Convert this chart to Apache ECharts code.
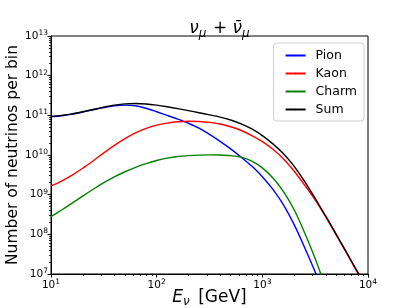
<!DOCTYPE html>
<html>
<head>
<meta charset="utf-8">
<script src="https://cdn.jsdelivr.net/npm/echarts@6/dist/echarts.min.js"></script>
<style>html,body{margin:0;padding:0;background:#fff}#c{width:411px;height:308px}</style>
</head>
<body>
<div id="c"></div>
<script>
// Neutrino energy grid (GeV)
var energies = [10, 12.59, 15.85, 19.95, 25.12, 31.62, 39.81, 50.12, 63.10, 79.43,
  100, 125.9, 158.5, 199.5, 251.2, 316.2, 398.1, 501.2, 631.0, 794.3,
  1000, 1259, 1585, 1995, 2512, 3162, 3981, 5012, 6310, 7943, 10000];
var pion = [9.27e10, 9.77e10, 1.07e11, 1.21e11, 1.38e11, 1.57e11, 1.73e11, 1.81e11, 1.74e11, 1.51e11,
  1.23e11, 9.95e10, 8.00e10, 6.31e10, 4.73e10, 3.31e10, 2.21e10, 1.43e10, 8.81e9, 5.25e9,
  2.84e9, 1.36e9, 5.56e8, 1.78e8, 4.68e7, 1.12e7, 2.24e6, null, null, null, null];
var kaon = [1.66e9, 2.21e9, 3.12e9, 4.63e9, 7.18e9, 1.13e10, 1.75e10, 2.59e10, 3.61e10, 4.67e10,
  5.66e10, 6.38e10, 6.87e10, 7.11e10, 7.01e10, 6.64e10, 6.03e10, 5.15e10, 4.15e10, 3.09e10,
  2.17e10, 1.39e10, 7.94e9, 3.95e9, 1.75e9, 7.41e8, 2.75e8, 9.55e7, 3.24e7, 1.10e7, 3.55e6];
var charm = [2.79e8, 4.11e8, 6.11e8, 9.16e8, 1.37e9, 2.0e9, 2.81e9, 3.78e9, 4.90e9, 6.08e9,
  7.26e9, 8.34e9, 9.16e9, 9.64e9, 9.93e9, 1.007e10, 1.0e10, 9.66e9, 8.81e9, 7.0e9,
  4.73e9, 2.63e9, 1.20e9, 4.22e8, 1.10e8, 2.45e7, 4.47e6, null, null, null, null];
var total = [9.44e10, 1.0e11, 1.089e11, 1.227e11, 1.406e11, 1.607e11, 1.803e11, 1.95e11, 1.995e11, 1.936e11,
  1.803e11, 1.641e11, 1.472e11, 1.312e11, 1.164e11, 1.03e11, 9.02e10, 7.64e10, 6.11e10, 4.53e10,
  3.09e10, 1.905e10, 1.072e10, 5.25e9, 2.16e9, 8.04e8, 2.88e8, 1.0e8, 3.39e7, 1.15e7, 3.8e6];
var seriesNames = ['Pion', 'Kaon', 'Charm', 'Sum'];
var seriesColors = ['#0000ff', '#ff0000', '#008000', '#000000'];
var xTicks = [10, 100, 1000, 10000];
var yTicks = [1e7, 1e8, 1e9, 1e10, 1e11, 1e12, 1e13];

function pairs(vals) {
  var out = [];
  for (var i = 0; i < energies.length; i++) if (vals[i] != null) out.push([energies[i], vals[i]]);
  return out;
}
function minors(lo, hi) {
  var out = [];
  for (var d = lo; d < hi; d *= 10) for (var k = 2; k <= 9; k++) out.push(d * k);
  return out;
}
var FONT = 'DejaVu Sans';
function powLabel(v) {
  var e = Math.round(Math.log10(v));
  return '{b|10}{e|' + e + '}';
}
var tickRich = {
  b: {fontFamily: FONT, fontSize: 10.5, color: '#000', lineHeight: 14},
  e: {fontFamily: FONT, fontSize: 7.5, color: '#000', verticalAlign: 'top'}
};
function mathRich(size, drop, after) {
  return {
    i: {fontFamily: FONT, fontStyle: 'italic', fontWeight: 'normal', fontSize: size, color: '#000', lineHeight: size + 4},
    n: {fontFamily: FONT, fontWeight: 'normal', fontSize: size, color: '#000', lineHeight: size + 4},
    s: {fontFamily: FONT, fontStyle: 'italic', fontWeight: 'normal', fontSize: Math.round(size * 0.7), color: '#000',
        lineHeight: size * 0.7, verticalAlign: 'bottom', padding: [0, after, -drop, 0]}
  };
}

var chart = echarts.init(document.getElementById('c'), null, {renderer: 'canvas'});
var datasets = [pion, kaon, charm, total];
var series = datasets.map(function (d, i) {
  return {
    name: seriesNames[i], type: 'line', xAxisIndex: 0, yAxisIndex: 0,
    data: pairs(d), smooth: 0.25, symbol: 'none', clip: true,
    lineStyle: {color: seriesColors[i], width: 1.4}, itemStyle: {color: seriesColors[i]},
    z: 3 + i
  };
});

chart.setOption({
  animation: false,
  backgroundColor: '#fff',
  title: {
    text: '{i|ν}{s|μ}{n| + }{i|ν̄}{s|μ}',
    left: 215, top: 13, textAlign: 'center',
    textStyle: {fontWeight: 'normal', rich: mathRich(17, 1, 1)}
  },
  legend: {
    data: seriesNames,
    orient: 'vertical', right: 47, top: 43,
    itemWidth: 20, itemHeight: 2, itemGap: 5,
    padding: [6, 7, 5, 11],
    borderColor: '#d0d0d0', borderWidth: 1, borderRadius: 3,
    backgroundColor: 'rgba(255,255,255,0.8)',
    textStyle: {fontFamily: FONT, fontSize: 12.5, color: '#000', padding: [0, 0, 0, 5]}
  },
  grid: {left: 51, right: 43, top: 36, bottom: 34, show: true, borderColor: '#000', borderWidth: 1,
    backgroundColor: 'transparent', containLabel: false, outerBoundsMode: 'none'},
  xAxis: [{
    type: 'log', logBase: 10, min: 10, max: 10000, position: 'bottom',
    axisLine: {lineStyle: {color: '#000', width: 1}},
    axisTick: {show: true, length: 3.5, lineStyle: {color: '#000'}, customValues: xTicks},
    axisLabel: {margin: 4, formatter: powLabel, rich: tickRich, customValues: xTicks},
    splitLine: {show: false},
    name: '{i|E}{s|ν}{n| [GeV]}', nameLocation: 'middle', nameGap: 13, nameMoveOverlap: false,
    nameTextStyle: {rich: mathRich(17, 0, 3)}
  }, {
    type: 'log', logBase: 10, min: 10, max: 10000, position: 'bottom',
    axisLine: {show: false},
    axisTick: {show: true, length: 2, lineStyle: {color: '#000', width: 0.8}, customValues: minors(10, 10000)},
    axisLabel: {show: false}, splitLine: {show: false}
  }],
  yAxis: [{
    type: 'log', logBase: 10, min: 1e7, max: 1e13, position: 'left',
    axisLine: {show: true, lineStyle: {color: '#000', width: 1}},
    axisTick: {show: true, length: 3.5, lineStyle: {color: '#000'}, customValues: yTicks},
    axisLabel: {margin: 3, formatter: powLabel, rich: tickRich, customValues: yTicks},
    splitLine: {show: false},
    name: 'Number of neutrinos per bin', nameLocation: 'middle', nameGap: 30, nameRotate: 90, nameMoveOverlap: false,
    nameTextStyle: {fontFamily: FONT, fontSize: 15.5, color: '#000'}
  }, {
    type: 'log', logBase: 10, min: 1e7, max: 1e13, position: 'left',
    axisLine: {show: false},
    axisTick: {show: true, length: 2, lineStyle: {color: '#000', width: 0.8}, customValues: minors(1e7, 1e13)},
    axisLabel: {show: false}, splitLine: {show: false}
  }],
  series: series
});
</script>
</body>
</html>
